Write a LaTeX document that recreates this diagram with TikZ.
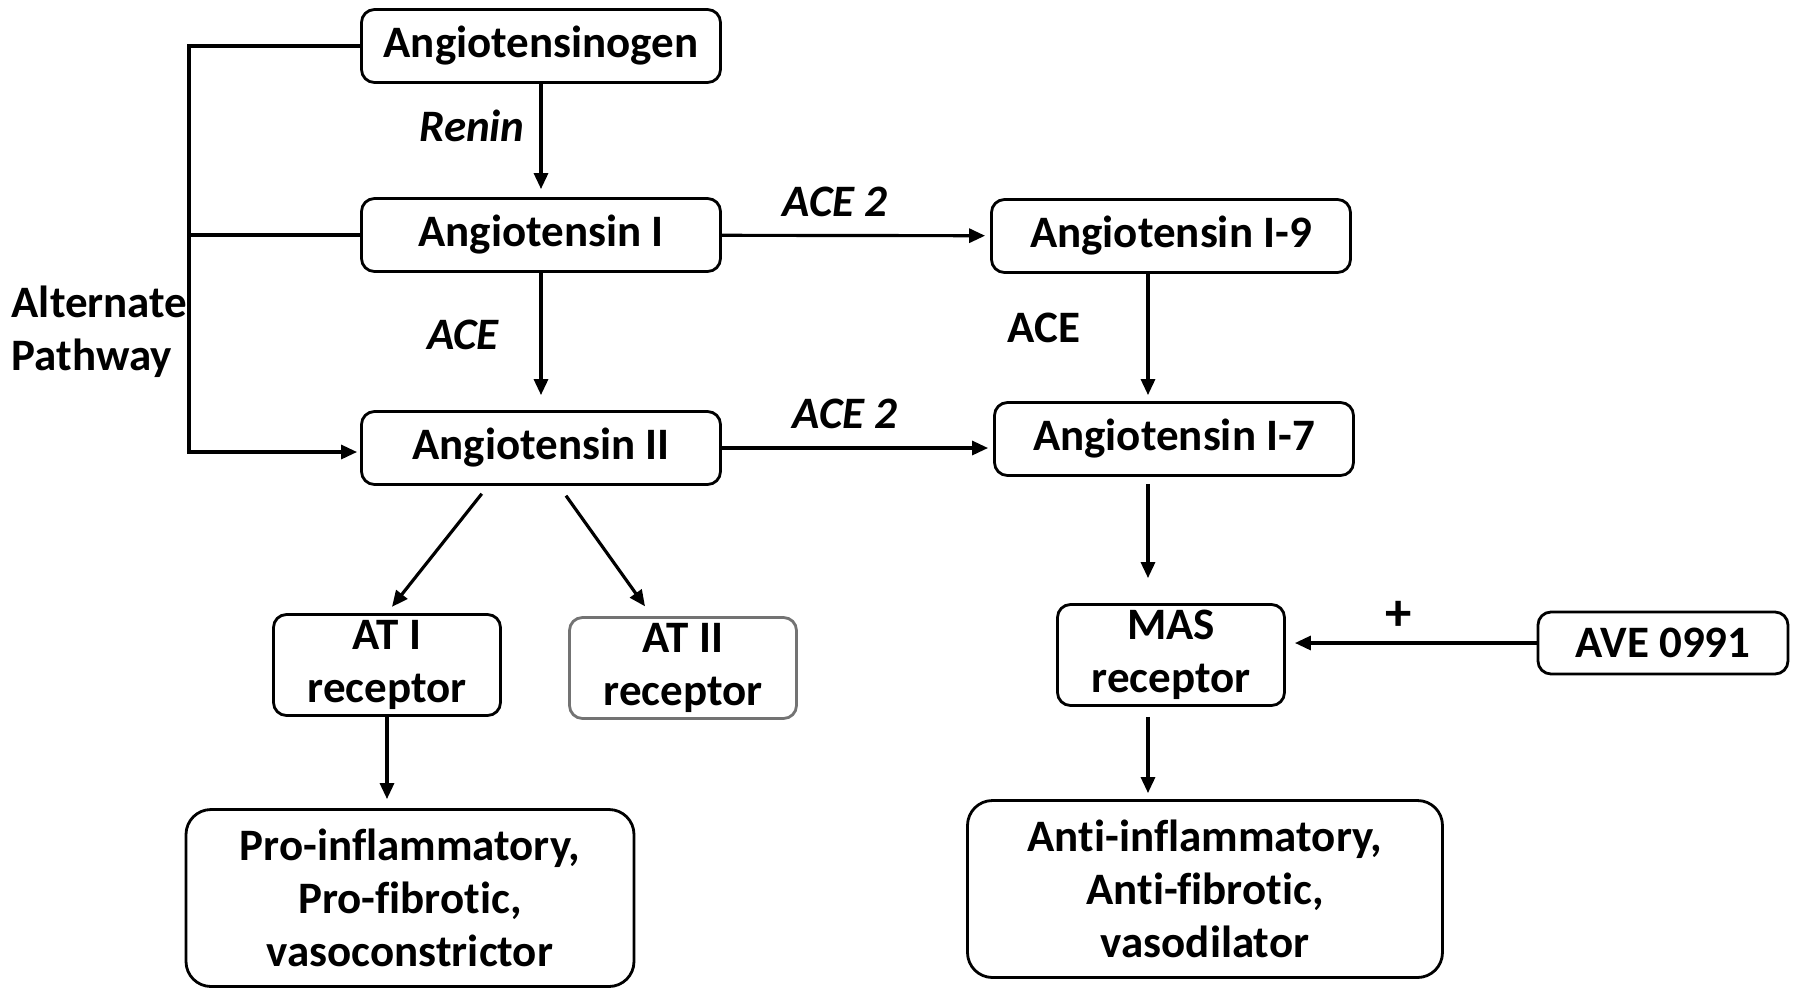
\documentclass[tikz,border=0pt]{standalone}
\usepackage{fontspec}
\setmainfont{Carlito}[Ligatures=CommonOff]
\usetikzlibrary{positioning,calc,arrows.meta}
\tikzset{
  box/.style={rectangle,draw,line width=0.8pt,rounded corners=1.3mm,align=center,inner sep=0,
              font=\fontsize{12.8}{15}\selectfont\bfseries},
  wide/.style={box,minimum width=3.59cm,minimum height=0.73cm},
  recep/.style={box,minimum width=2.27cm,minimum height=1.01cm},
  % the two outcome boxes have wider corners
  effect/.style={box,rounded corners=2.5mm,minimum height=1.77cm},
  enz/.style={inner sep=0,font=\fontsize{12.8}{15}\selectfont\bfseries\itshape},
  lab/.style={inner sep=0,font=\fontsize{12.8}{15}\selectfont\bfseries},
  link/.style={line width=0.9pt},
  arrow/.style={link,-{Triangle[length=1.6mm,width=1.4mm]}},
}
\begin{document}
\begin{tikzpicture}
  \useasboundingbox (0,0) rectangle (18,-9.98);
  % the classical cascade
  \node[wide] (agen) at (5.41,-0.46) {Angiotensinogen};
  \node[wide] (ang1) at (5.41,-2.35) {Angiotensin I};
  \node[wide] (ang2) at (5.41,-4.48) {Angiotensin II};
  % the ACE 2 branch
  \node[wide] (ang19) at (11.71,-2.36) {Angiotensin I-9};
  \node[wide] (ang17) at (11.74,-4.39) {Angiotensin I-7};
  % receptors
  \node[recep] (at1r) at (3.87,-6.65) {AT I\\receptor};
  \node[recep,draw=black!55] (at2r) at (6.83,-6.68) {AT II\\receptor};
  \node[recep] (masr) at (11.71,-6.55) {MAS\\receptor};
  \node[box,minimum width=2.5cm,minimum height=0.62cm] (ave) at (16.63,-6.43) {AVE 0991};
  % outcomes
  \node[effect,minimum width=4.48cm] (proeff) at (4.10,-8.98) {Pro-inflammatory,\\Pro-fibrotic,\\vasoconstrictor};
  \node[effect,minimum width=4.75cm] (antieff) at (12.05,-8.89) {Anti-inflammatory,\\Anti-fibrotic,\\vasodilator};

  % enzyme labels
  \foreach \n/\x/\y/\txt in {renin/4.72/-1.26/Renin, acea/4.63/-3.35/ACE, ace2a/8.35/-2.02/ACE 2, ace2b/8.45/-4.14/ACE 2}
    { \node[enz] (\n) at (\x,\y) {\txt}; }
  \node[lab] (aceb) at (10.44,-3.28) {ACE};
  \node[lab,font=\fontsize{15}{15}\selectfont\bfseries] (plus) at (13.99,-6.16) {+};
  \node[lab,align=left,anchor=west] (altpath) at (0.11,-3.32) {Alternate\\Pathway};

  % main arrows
  \draw[arrow,shorten >=0.08cm] (agen) -- (ang1);
  \draw[arrow,shorten >=0.15cm] (ang1) -- (ang2);
  \draw[arrow,shorten >=0.05cm] (ang1) -- (ang19);
  \draw[arrow,shorten >=0.05cm] (ang2.east) -- (ang2.east -| ang17.west);
  \draw[arrow,shorten >=0.06cm] ([xshift=-0.23cm]ang19.south) -- ([xshift=-0.26cm]ang17.north);
  \draw[arrow,shorten <=0.07cm,shorten >=0.25cm] ([xshift=-0.26cm]ang17.south) -- ([xshift=-0.23cm]masr.north);
  \draw[arrow,shorten <=0.1cm,shorten >=0.06cm] ([xshift=-0.23cm]masr.south) -- ([xshift=-0.23cm]masr.south |- antieff.north);
  \draw[arrow,shorten >=0.09cm] (ave.west) -- (ave.west -| masr.east);
  % angiotensin II to its receptors
  \draw[arrow,shorten <=0.1cm,shorten >=0.08cm] ([xshift=-0.53cm]ang2.south) -- (at1r.north);
  \draw[arrow,shorten <=0.12cm,shorten >=0.12cm] ([xshift=0.18cm]ang2.south) -- ([xshift=-0.31cm]at2r.north);
  \draw[arrow,shorten >=0.09cm] (at1r.south) -- (at1r.south |- proeff.north);

  % alternate pathway
  \coordinate (alttop) at (1.89,-0.46);
  \coordinate (altbot) at (1.89,-4.52);
  \draw[link] (ang1.west) -- (ang1.west -| alttop);
  \draw[arrow,shorten >=0.03cm] (agen.west) -- (alttop) -- (altbot) -- (altbot -| ang2.west);
\end{tikzpicture}
\end{document}
